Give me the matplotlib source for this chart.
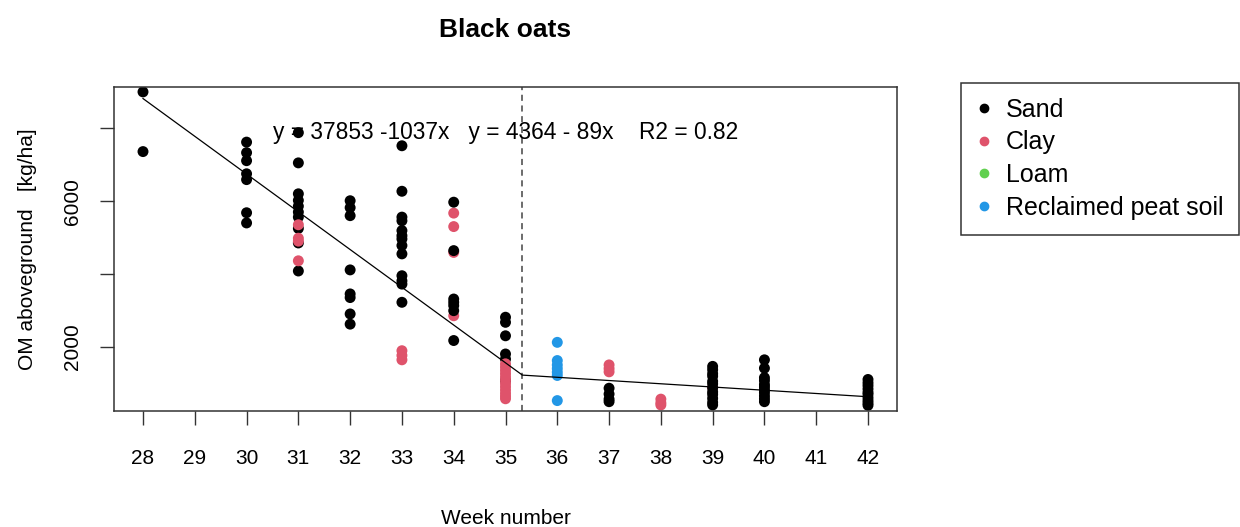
import numpy as np
import pandas as pd
import matplotlib
matplotlib.use('Agg')
import matplotlib.pyplot as plt
from matplotlib.lines import Line2D

plt.rcParams['font.family'] = ['Liberation Sans', 'DejaVu Sans']

# Soil classes and the R default palette colours used for them
soil_types  = ['Sand', 'Clay', 'Loam', 'Reclaimed peat soil']
soil_colors = ['black', '#DF536B', '#61D04F', '#2297E6']

# Measurements, one block per week and soil (kept in sampling order)
block_week = [28, 30, 31, 31, 32, 33, 33, 34, 34, 35, 35, 36, 37, 37, 38, 39, 39, 40, 42]
block_soil = ['Sand', 'Sand', 'Sand', 'Clay', 'Sand', 'Sand', 'Clay', 'Clay', 'Sand',
              'Sand', 'Clay', 'Reclaimed peat soil', 'Clay', 'Sand', 'Clay', 'Clay',
              'Sand', 'Sand', 'Sand']
block_om = [
    [9000, 7360],
    [7620, 7330, 7110, 6750, 6590, 5680, 5400],
    [7880, 7050, 6200, 6020, 5860, 5700, 5560, 5250, 4850, 4080],
    [5350, 4980, 4900, 4360],
    [6010, 5820, 5600, 4110, 3450, 3350, 2900, 2620],
    [7520, 6270, 5560, 5460, 5190, 5050, 4960, 4780, 4550, 3950, 3810, 3720, 3220],
    [1890, 1760, 1640],
    [5670, 5300, 4590, 2850],
    [5970, 4640, 3310, 3220, 3130, 2990, 2170],
    [2810, 2670, 2300, 1800, 1660, 1070],
    [1530, 1440, 1350, 1260, 1170, 1080, 990, 900, 810, 720, 640, 570],
    [2120, 1620, 1500, 1400, 1300, 1210, 520],
    [1500, 1400, 1310],
    [860, 700, 560, 490],
    [560, 460, 400],
    [880],
    [1460, 1370, 1260, 1190, 1050, 980, 870, 760, 690, 580, 470, 400],
    [1640, 1410, 1150, 1070, 960, 890, 810, 740, 650, 570, 490],
    [1100, 1010, 930, 840, 750, 690, 600, 520, 450, 390],
]

# Segmented regression: two lines and R2
a1, b1 = 37853, -1037
a2, b2 = 4364, -89
r2 = 0.82

rows = []
for w, s, vals in zip(block_week, block_soil, block_om):
    for v in vals:
        rows.append((w, s, v))
df = pd.DataFrame(rows, columns=['Week', 'Soil', 'OM'])
df['Color'] = df['Soil'].map(dict(zip(soil_types, soil_colors)))

# Breakpoint where the two fitted lines meet
bp = (a1 - a2) / (b2 - b1)
x_fit = np.array([28, bp, 42])
y_fit = np.where(x_fit <= bp, a1 + b1 * x_fit, a2 + b2 * x_fit)

fig = plt.figure(figsize=(12.4, 5.27), dpi=100)
ax = fig.add_axes([114/1240, 1 - 411/527, (897 - 114)/1240, (411 - 87.3)/527])

ax.scatter(df['Week'], df['OM'], c=df['Color'], s=62, linewidths=0, zorder=2)
ax.plot(x_fit, y_fit, color='black', lw=0.9, zorder=3)
ax.axvline(bp, color='#444444', ls=(0, (4, 3)), lw=1.1, zorder=1)
ax.text(35, 7880, 'y = %d %dx   y = %d - %dx    R2 = %.2f' % (a1, b1, a2, -b2, r2),
        ha='center', va='center', fontsize=16.4, zorder=4)

ax.set_xlim(27.44, 42.56)
ax.set_ylim(234, 9126)
ax.set_xticks(np.arange(28, 43))
ax.set_yticks([2000, 4000, 6000, 8000])
ax.set_yticklabels(['2000', '', '6000', ''], rotation=90, va='center')
ax.tick_params(axis='x', length=10, width=1, color='#333333', pad=17, labelsize=15)
ax.tick_params(axis='y', length=10, width=1, color='#333333', pad=13, labelsize=15)
for sp in ax.spines.values():
    sp.set_color('#333333')
    sp.set_linewidth(1.1)

ax.set_xlabel('Week number', fontsize=15, labelpad=30)
ax.set_ylabel('OM aboveground   [kg/ha]', fontsize=15, labelpad=19)
ax.set_title('Black oats', fontsize=19, fontweight='bold', pad=36)

handles = [Line2D([], [], marker='o', ls='none', color=c, markersize=6) for c in soil_colors]
leg = fig.legend(handles, soil_types, loc='upper left', bbox_to_anchor=(961/1240, 1 - 83/527),
                 fontsize=18, frameon=True, fancybox=False, edgecolor='black',
                 borderpad=0.6, labelspacing=0.34, handlelength=0.6, handletextpad=0.6,
                 borderaxespad=0)
leg.get_frame().set_linewidth(1.1)

fig.savefig('out.png', dpi=100)
